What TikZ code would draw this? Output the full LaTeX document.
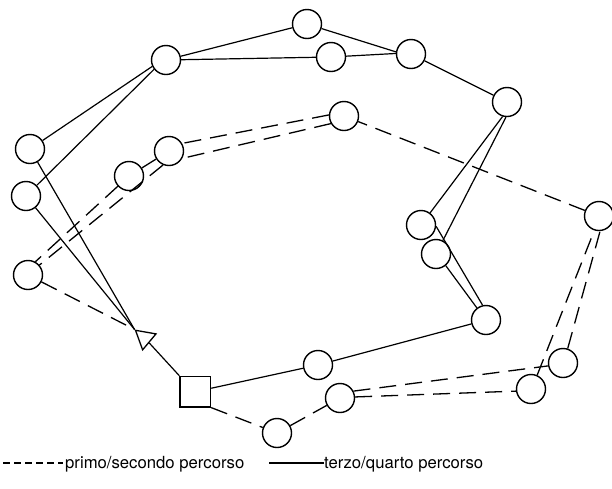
\documentclass[tikz,border=0pt]{standalone}
\usepackage{fontspec}
\setmainfont{TeX Gyre Heros}
\usetikzlibrary{shapes.geometric}
\begin{document}
\begin{tikzpicture}[x=1pt,y=-1pt,
  stop/.style={circle,draw,line width=1.4pt,minimum size=29pt,inner sep=0pt},
  depot/.style={rectangle,draw,line width=1.3pt,minimum size=30.5pt,inner sep=0pt},
  tri/.style={regular polygon,regular polygon sides=3,draw,line width=1.3pt,minimum size=24pt,inner sep=0pt,shape border rotate=50},
  sol/.style={line width=1.2pt},
  das/.style={line width=1.3pt,dash pattern=on 17pt off 9pt},
  lab/.style={font=\fontsize{16.7}{20}\selectfont,anchor=base west,inner sep=0pt}]
\useasboundingbox (0,0) rectangle (612,488);
% nodes
\node[depot] (S) at (195.3,391.7) {};
\node[tri] (T) at (144.7,338) {};
\node[stop] (A) at (166,60) {};
\node[stop] (B) at (307,24) {};
\node[stop] (M) at (331,57) {};
\node[stop] (C) at (411,54) {};
\node[stop] (R) at (507,102) {};
\node[stop] (P1) at (421,225) {};
\node[stop] (P2) at (436,254) {};
\node[stop] (P3) at (486,320) {};
\node[stop] (Q) at (318,365) {};
\node[stop] (L1) at (30,149) {};
\node[stop] (L2) at (26,196) {};
\node[stop] (L3) at (28,275) {};
\node[stop] (D1) at (129,176) {};
\node[stop] (D2) at (169,151) {};
\node[stop] (J) at (344,116) {};
\node[stop] (I) at (599,216) {};
\node[stop] (H) at (563,363) {};
\node[stop] (G) at (531,389) {};
\node[stop] (F) at (340,398) {};
\node[stop] (E) at (277,433) {};
% solid routes
\draw[sol] (S) -- (Q);
\draw[sol] (Q) -- (P3);
\draw[sol] (P1.-5) -- (P3.103);
\draw[sol] (P2.-50) -- (P3.127);
\draw[sol] (R.253) -- (P1);
\draw[sol] (R.266) -- (P2);
\draw[sol] (C) -- (R);
\draw[sol] (B) -- (C.172);
\draw[sol] (M) -- (C.178);
\draw[sol] (A) -- (B);
\draw[sol] (A) -- (M);
\draw[sol] (A.205) -- (L1);
\draw[sol] (A.218) -- (L2);
\draw[sol] (L1) -- (T.corner 1);
\draw[sol] (L2) -- (T.corner 1);
\draw[sol] (S.north west) -- (T);
% dashed routes
\draw[das] (S.south east) -- (E);
\draw[das] (E) -- (F);
\draw[das] (F.27) -- (H.191);
\draw[das] (F.4) -- (G.188);
\draw[das] (G.66) -- (I.252);
\draw[das] (H.72) -- (I.274);
\draw[das] (I) -- (J);
\draw[das] (J.176) -- (D2.30);
\draw[das] (J.210) -- (D2.-29);
\draw[das] (D2) -- (D1);
\draw[das] (D2.247) -- (L3.41);
\draw[das] (D1) -- (L3.61);
\draw[das] (L3) -- (T.corner 1);
% legend
\coordinate (d0) at (3,463);
\coordinate (d1) at (63,463);
\draw[line width=1.1pt,dash pattern=on 7pt off 4pt] (d0) -- (d1);
\node[lab] (t1) at (65,468.3) {primo/secondo percorso};
\coordinate (s0) at (269,463);
\coordinate (s1) at (324,463);
\draw[line width=1.1pt] (s0) -- (s1);
\node[lab] (t2) at (324,468.3) {terzo/quarto percorso};
\end{tikzpicture}
\end{document}
